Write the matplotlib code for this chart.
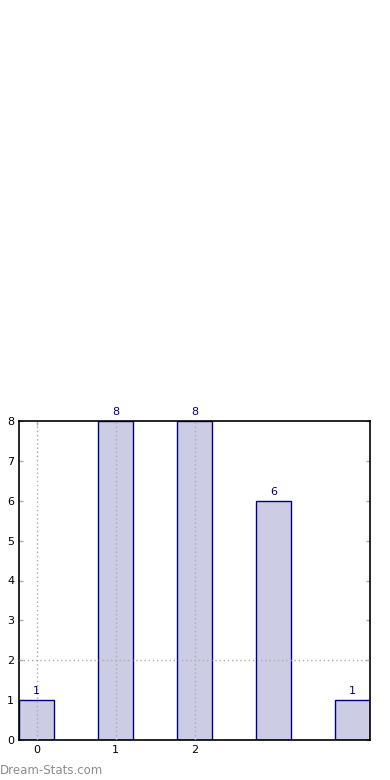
import matplotlib
matplotlib.use('Agg')
import matplotlib.pyplot as plt

# data
positions = [0, 1, 2, 3, 4]
counts = [1, 8, 8, 6, 1]
xticks = [0, 1, 2]
yticks = [0, 1, 2, 3, 4, 5, 6, 7, 8]
vgrid = [0, 1, 2]
hgrid = [2]

barWidth = 0.45
fig = plt.figure(figsize=(3.9, 7.8), dpi=100)
ax = fig.add_axes([19 / 390, 40 / 780, 351 / 390, 319 / 780])

ax.bar(positions, counts, width=barWidth, color='#ccccE5', edgecolor='#000080',
       linewidth=1, zorder=2)
for x in vgrid:
    ax.axvline(x, color='#aaaaaa', linestyle=(0, (1, 2)), linewidth=1, zorder=3)
for y in hgrid:
    ax.axhline(y, color='#aaaaaa', linestyle=(0, (1, 2)), linewidth=1, zorder=3)

for x, c in zip(positions, counts):
    ax.text(x, c + 0.1, str(c), ha='center', va='bottom', fontsize=8,
            color='#000080')

ax.set_xlim(-barWidth / 2, positions[-1] + barWidth / 2)
ax.set_ylim(0, 8)
ax.set_xticks(xticks)
ax.set_yticks(yticks)
ax.tick_params(direction='in', length=3, color='#aaaaaa', labelsize=8,
               top=True, right=True, width=1)
for s in ax.spines.values():
    s.set_linewidth(1.2)

fig.text(0.0, 10 / 780, 'Dream-Stats.com', fontsize=8.5,
         color='#8c8c8c', ha='left', va='center')

fig.savefig('out.png', dpi=100)
